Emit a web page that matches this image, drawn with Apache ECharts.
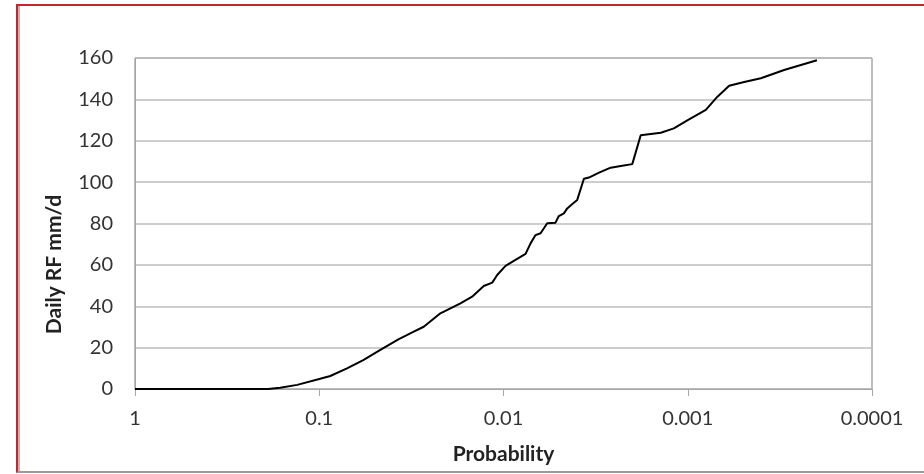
<!DOCTYPE html>
<html>
<head>
<meta charset="utf-8">
<script src="https://cdn.jsdelivr.net/npm/echarts@6/dist/echarts.min.js"></script>
<style>
  html, body { margin: 0; padding: 0; background: #fff; }
  #main { position: absolute; left: 0; top: 0; width: 924px; height: 474px; }
  #frame {
    position: absolute; left: 16px; top: 4px; width: 920px; height: 465px;
    border-left: 2px solid #c4262e; border-top: 2px solid #c4262e;
    border-bottom: 2px solid #9a9a9a; pointer-events: none;
  }
  #frame div { position: absolute; left: 0; top: 0; bottom: 0; width: 2px; background: #b8b8b8; }
</style>
</head>
<body>
<div id="main"></div>
<div id="frame"><div></div></div>
<script>
// exceedance probability (x, log scale, reversed) vs daily rainfall (mm/d)
var probability = [1, 0.1893, 0.163, 0.1317, 0.1, 0.0871, 0.0707, 0.0577, 0.0466, 0.0372,
  0.0307, 0.0271, 0.0220, 0.01713, 0.01480, 0.01280, 0.01151, 0.01082, 0.00975, 0.00861,
  0.00759, 0.00713, 0.00670, 0.00629, 0.00579, 0.00522, 0.00501, 0.00470, 0.00451, 0.00423,
  0.00398, 0.00366, 0.00344, 0.00303, 0.00262, 0.00231, 0.00200, 0.00180, 0.00140, 0.00119,
  0.00100, 0.000798, 0.000690, 0.000596, 0.000494, 0.000401, 0.000300, 0.000199];
var rainfall = [0, 0, 0.6, 2, 4.8, 6.3, 10, 14, 18.9, 24,
  27.7, 30.1, 36.6, 41.4, 44.6, 49.8, 51.4, 55.1, 59.5, 62.4,
  65.3, 70.4, 74.4, 75.3, 80.1, 80.4, 83.6, 84.9, 87.3, 89.4,
  91.4, 101.6, 102.2, 104.6, 107, 107.8, 108.7, 122.7, 123.9, 126,
  130, 134.9, 141.3, 146.6, 148.4, 150.2, 154.2, 158.9];
var xTickLabels = ["1", "0.1", "0.01", "0.001", "0.0001"];

var points = probability.map(function (p, i) { return [p, rainfall[i]]; });

var chart = echarts.init(document.getElementById("main"));
var labelFont = { fontFamily: "Lato", fontSize: 20, color: "#333" };
var nameFont = { fontFamily: "Lato", fontSize: 21, fontWeight: "bold", color: "#222" };

var option = {
  animation: false,
  grid: {
    left: 135, right: 52, top: 58, bottom: 85,
    show: true, borderColor: "#7f7f7f", borderWidth: 1
  },
  xAxis: {
    type: "log",
    logBase: 10,
    inverse: true,
    min: 0.0001,
    max: 1,
    splitNumber: 4,
    name: "Probability",
    nameLocation: "middle",
    nameGap: 55,
    nameTextStyle: nameFont,
    axisLine: { lineStyle: { color: "#a6a6a6", width: 1 } },
    axisTick: { show: true, length: 7, lineStyle: { color: "#a6a6a6" } },
    splitLine: { show: false },
    axisLabel: Object.assign({
      margin: 20,
      formatter: function (v) {
        var k = Math.round(-Math.log10(v));
        return xTickLabels[k] !== undefined ? xTickLabels[k] : "";
      }
    }, labelFont)
  },
  yAxis: {
    type: "value",
    min: 0,
    max: 160,
    interval: 20,
    name: "Daily RF mm/d",
    nameLocation: "middle",
    nameGap: 70,
    nameTextStyle: Object.assign({ padding: [0, 82, 0, 0] }, nameFont),
    axisLine: { show: true, lineStyle: { color: "#a6a6a6", width: 1 } },
    axisTick: { show: false },
    splitLine: { lineStyle: { color: "#bdbdbd", width: 1.5 } },
    axisLabel: Object.assign({ margin: 22 }, labelFont)
  },
  series: [
    {
      type: "line",
      data: points,
      showSymbol: false,
      lineStyle: { color: "#000", width: 2 }
    }
  ]
};

chart.setOption(option);
window.onresize = chart.resize;
</script>
</body>
</html>
